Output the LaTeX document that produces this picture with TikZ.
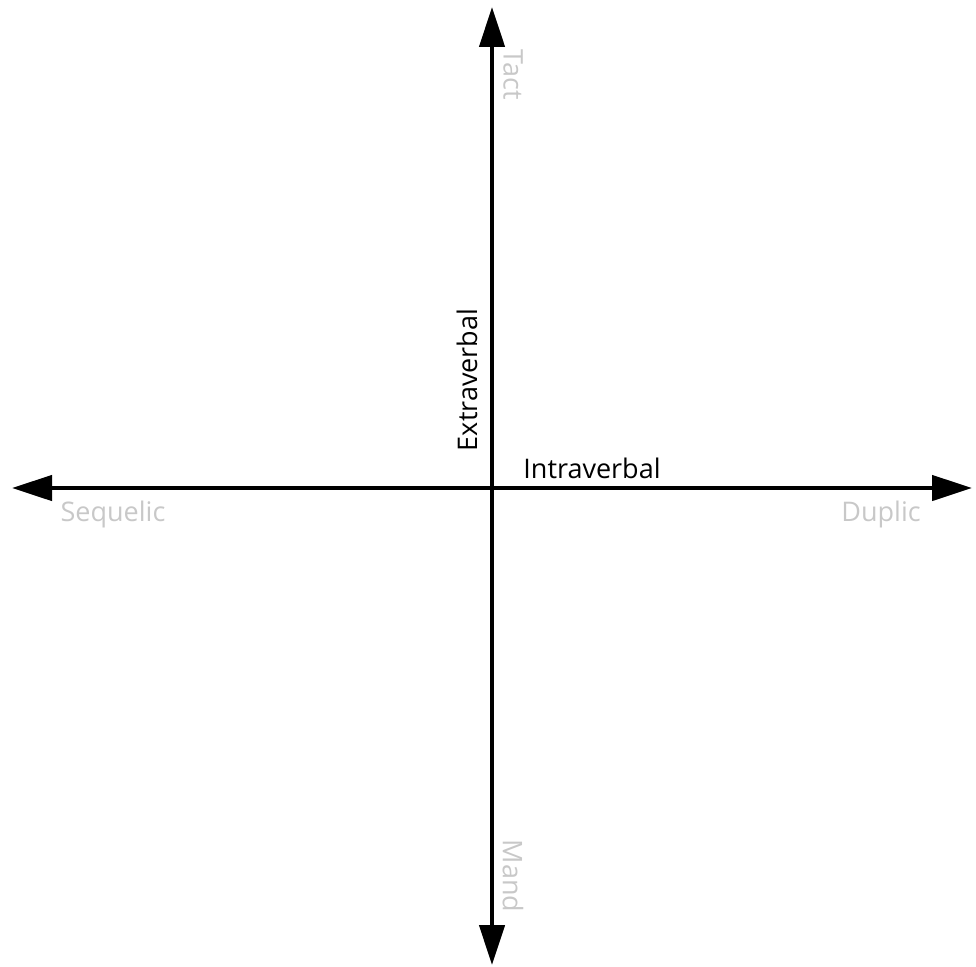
\documentclass[tikz,border=0pt]{standalone}
\usepackage{fontspec}
\setmainfont{Open Sans}
\usepackage{xcolor}
\definecolor{cAxis}{HTML}{000000}
\definecolor{cPole}{HTML}{C8C8C8}
\usetikzlibrary{arrows.meta}
\tikzset{
  axis-arrow/.style={{Triangle[length=40pt,width=25pt]}-{Triangle[length=40pt,width=25pt]},
    line width=4.5pt,draw=cAxis},
  label-pole/.style={text=cPole,font=\fontsize{27}{31}\selectfont,inner sep=0pt},
  label-axis/.style={text=cAxis,font=\fontsize{27}{31}\selectfont,inner sep=0pt},
}

\begin{document}
\begin{tikzpicture}[x=1pt,y=-1pt]
  \useasboundingbox (0,0) rectangle (976,966);
  % ends of the two axes
  \coordinate (west) at (12,488);
  \coordinate (east) at (972,488);
  \coordinate (north) at (492,7);
  \coordinate (south) at (492,965);
  \draw[axis-arrow] (west) -- (east);
  \draw[axis-arrow] (south) -- (north);
  % poles
  \node[label-pole,rotate=-90] (tact) at (513,75) {Tact};
  \node[label-pole,rotate=-90] (mand) at (513,876) {Mand};
  \node[label-pole] (sequelic) at (113,514) {Sequelic};
  \node[label-pole] (duplic) at (881,514) {Duplic};
  % axis names
  \node[label-axis,rotate=90] (extraverbal) at (467,380) {Extraverbal};
  \node[label-axis] (intraverbal) at (592,468) {Intraverbal};
\end{tikzpicture}
\end{document}
